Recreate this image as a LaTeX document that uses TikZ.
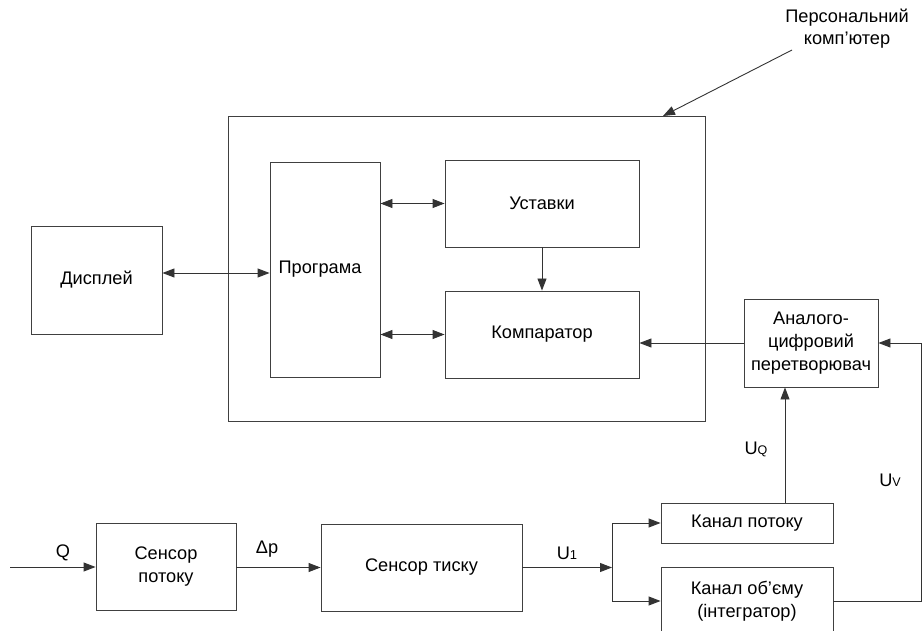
\documentclass[tikz,border=0pt]{standalone}
\usepackage{fontspec}
\setmainfont{Liberation Sans}
\usetikzlibrary{arrows.meta}
\begin{document}
\begin{tikzpicture}[x=1pt,y=-1pt,
  blk/.style={draw=black!75, line width=0.9pt, rectangle, inner sep=2pt, align=center,
    font=\fontsize{18.2}{23}\selectfont},
  arr/.style={draw=black!80, line width=0.9pt, -{Triangle[length=12pt,width=9pt]}},
  darr/.style={draw=black!80, line width=0.9pt, {Triangle[length=12pt,width=9pt]}-{Triangle[length=12pt,width=9pt]}},
  lbl/.style={font=\fontsize{18.2}{22}\selectfont, inner sep=0pt}]
\useasboundingbox (0,0) rectangle (922,631);
\clip (0,0) rectangle (922,631);
% boxes
\node[blk, minimum width=477pt, minimum height=305pt] (pc) at (466.5,268.5) {};
\node[blk, minimum width=110pt, minimum height=215pt] (prog) at (325,269.5) {Програма\hspace*{10pt}};
\node[blk, minimum width=194pt, minimum height=87pt] (ust) at (542,203.5) {Уставки};
\node[blk, minimum width=194pt, minimum height=87pt] (comp) at (542,334.5) {Компаратор};
\node[blk, minimum width=131pt, minimum height=108pt] (disp) at (96.5,280) {Дисплей};
\node[blk, minimum width=134pt, minimum height=88pt] (adc) at (811,343) {Аналого-\\цифровий\\перетворювач};
\node[blk, minimum width=172pt, minimum height=40pt] (kp) at (747,523) {Канал потоку};
\node[blk, minimum width=172pt, minimum height=68pt] (ko) at (747,601) {Канал об’єму\\(інтегратор)};
\node[blk, minimum width=140pt, minimum height=87pt] (sp) at (166,566.5) {Сенсор\\потоку};
\node[blk, minimum width=201pt, minimum height=87pt] (st) at (421.5,567.5) {Сенсор тиску};
% connectors inside PC
\draw[darr] ([yshift=7pt]disp.east) -- ([yshift=7pt]disp.east -| prog.west);
\draw[darr] (prog.east |- ust.west) -- (ust.west);
\draw[darr] (prog.east |- comp.west) -- (comp.west);
\draw[arr] (ust.south) -- (comp.north);
\draw[arr] (adc.west) -- (comp.east |- adc.west);
% bottom chain
\coordinate (qin) at (10,567);
\draw[arr] (qin) -- (sp.west |- qin);
\draw[arr] (sp.east |- st.west) -- (st.west);
\coordinate (split) at (612,567.5);
\draw[arr] (st.east) -- (split);
\draw[arr] (split) |- (kp.west);
\draw[arr] (split) |- (ko.west);
\coordinate (uq) at (785,503);
\draw[arr] (kp.north -| uq) -- (adc.south -| uq);
\coordinate (uvx) at (921,605);
\draw[arr] (ko.east) -- (ko.east -| uvx) |- (adc.east);
% pointer to PC
\coordinate (pclab) at (792,50);
\coordinate (pctip) at (663,116);
\draw[arr] (pclab) -- (pctip);
% labels
\node[lbl, align=center] (pcname) at (847,29) {Персональний\\комп’ютер};
\node[lbl] (lq) at (63,553) {Q};
\node[lbl] (ldp) at (267,549) {Δp};
\node[lbl] (lu1) at (567,553) {U{\fontsize{13}{13}\selectfont 1}};
\node[lbl] (luq) at (756,449) {U{\fontsize{12.5}{12.5}\selectfont Q}};
\node[lbl] (luv) at (890,480) {U{\fontsize{12.5}{12.5}\selectfont V}};
\end{tikzpicture}
\end{document}
